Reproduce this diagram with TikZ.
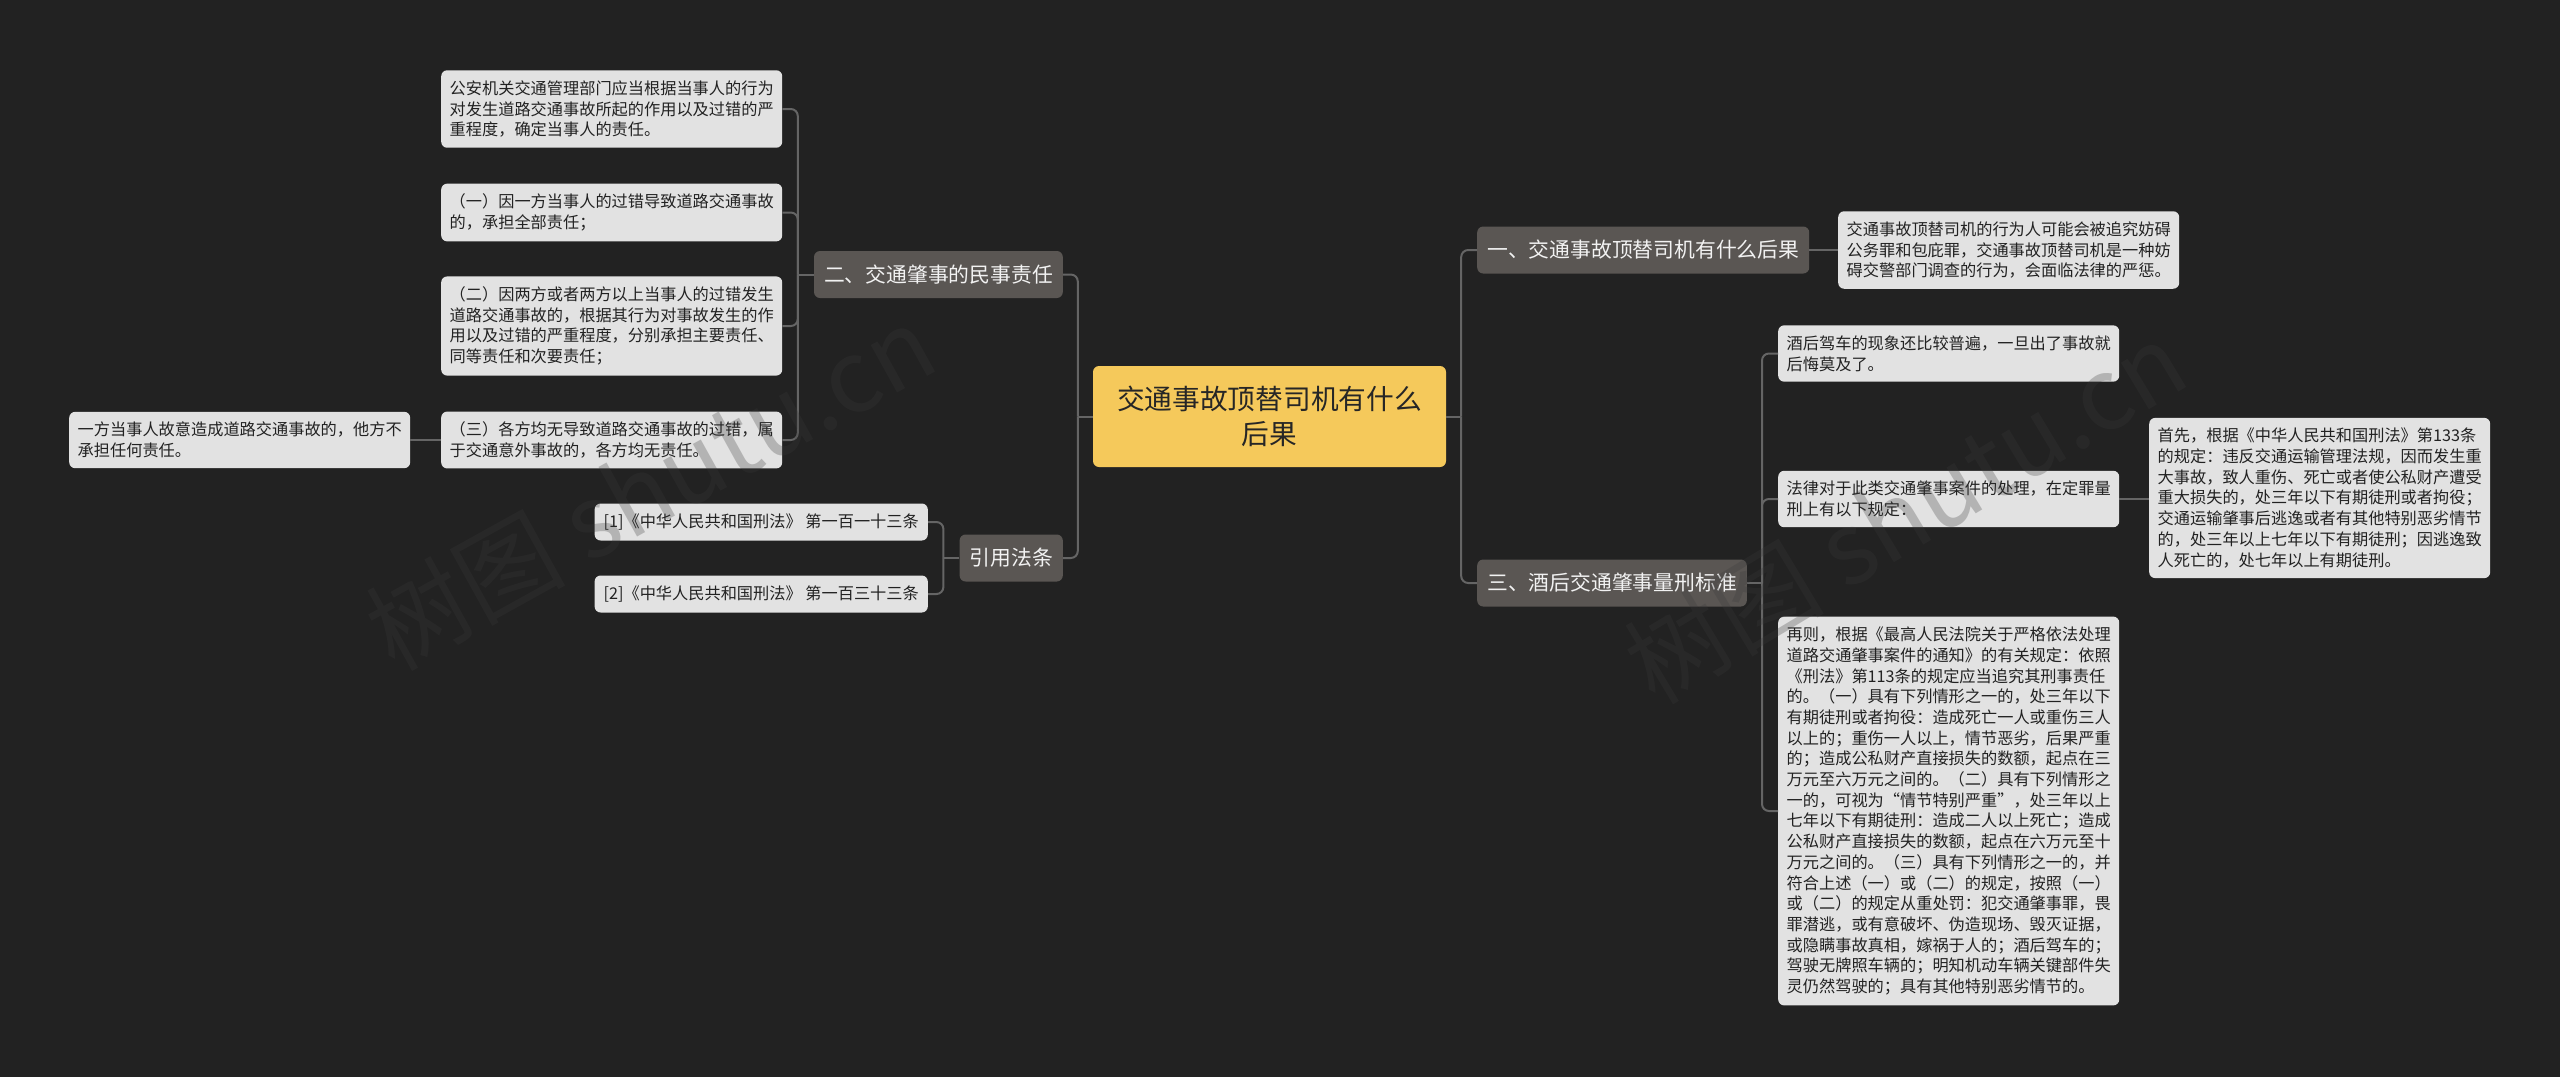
\documentclass[tikz,border=0pt]{standalone}
\usepackage{fontspec}
\setmainfont{Noto Sans CJK SC}
\usetikzlibrary{calc}
\definecolor{bgc}{HTML}{222222}
\definecolor{leafc}{HTML}{E2E2E2}
\definecolor{leaftext}{HTML}{222222}
\definecolor{lonec}{HTML}{5A5653}
\definecolor{centc}{HTML}{F5C95B}
\definecolor{connc}{HTML}{656565}
\definecolor{wmc}{HTML}{3A3A3A}
\tikzset{
  conn/.style={draw=connc, line width=2pt, rounded corners=7pt},
  leaf/.style={fill=leafc, rounded corners=6pt, text=leaftext,
    font=\fontsize{16.2pt}{20.7pt}\selectfont, text width=324pt, align=left,
    inner xsep=8.5pt, inner ysep=10.3pt},
  refleaf/.style={fill=leafc, rounded corners=6pt, text=leaftext,
    font=\fontsize{16.2pt}{20.7pt}\selectfont, inner xsep=9pt, minimum height=37pt, inner ysep=0pt},
  lone/.style={fill=lonec, rounded corners=6pt, text=white!95!black,
    font=\fontsize{20.8pt}{25pt}\selectfont, inner xsep=10pt, inner ysep=0pt, minimum height=47pt},
  centre/.style={fill=centc, rounded corners=6pt, text=black!85,
    font=\fontsize{27.7pt}{35pt}\selectfont, align=center, minimum width=353pt, minimum height=101pt, inner sep=0pt},
  wm/.style={text=wmc, opacity=0.28, font=\fontsize{100pt}{110pt}\selectfont}
}
\begin{document}
\begin{tikzpicture}[x=1pt,y=-1pt]
\fill[bgc] (0,0) rectangle (2560,1077);
\useasboundingbox (0,0) rectangle (2560,1077);

% central
\node[centre] (c) at (1269.5,416.5) {交通事故顶替司机有什么\\后果};

% level one
\node[lone, anchor=east] (b2) at (1063,274.5) {二、交通肇事的民事责任};
\node[lone, anchor=east] (b4) at (1063,558) {引用法条};
\node[lone, anchor=west] (b1) at (1477,250) {一、交通事故顶替司机有什么后果};
\node[lone, anchor=west] (b3) at (1477,583) {三、酒后交通肇事量刑标准};

% left leaves
\node[leaf, anchor=west] (L1) at (441,109) {公安机关交通管理部门应当根据当事人的行为\\对发生道路交通事故所起的作用以及过错的严\\重程度，确定当事人的责任。};
\node[leaf, anchor=west] (L2) at (441,212.5) {（一）因一方当事人的过错导致道路交通事故\\的，承担全部责任；};
\node[leaf, anchor=west] (L3) at (441,326) {（二）因两方或者两方以上当事人的过错发生\\道路交通事故的，根据其行为对事故发生的作\\用以及过错的严重程度，分别承担主要责任、\\同等责任和次要责任；};
\node[leaf, anchor=west] (L4) at (441,440) {（三）各方均无导致道路交通事故的过错，属\\于交通意外事故的，各方均无责任。};
\node[leaf, anchor=west] (LL) at (69,440) {一方当事人故意造成道路交通事故的，他方不\\承担任何责任。};
\node[refleaf, anchor=east] (F1) at (928,522) {[1]《中华人民共和国刑法》 第一百一十三条};
\node[refleaf, anchor=east] (F2) at (928,594) {[2]《中华人民共和国刑法》 第一百三十三条};

% right leaves
\node[leaf, anchor=west] (A1) at (1838,250) {交通事故顶替司机的行为人可能会被追究妨碍\\公务罪和包庇罪，交通事故顶替司机是一种妨\\碍交警部门调查的行为，会面临法律的严惩。};
\node[leaf, anchor=west] (R1) at (1778,353.5) {酒后驾车的现象还比较普遍，一旦出了事故就\\后悔莫及了。};
\node[leaf, anchor=west] (R2) at (1778,499) {法律对于此类交通肇事案件的处理，在定罪量\\刑上有以下规定：};
\node[leaf, anchor=west] (R2a) at (2149,498) {首先，根据《中华人民共和国刑法》第133条\\的规定：违反交通运输管理法规，因而发生重\\大事故，致人重伤、死亡或者使公私财产遭受\\重大损失的，处三年以下有期徒刑或者拘役；\\交通运输肇事后逃逸或者有其他特别恶劣情节\\的，处三年以上七年以下有期徒刑；因逃逸致\\人死亡的，处七年以上有期徒刑。};
\node[leaf, anchor=west] (R3) at (1778,811) {再则，根据《最高人民法院关于严格依法处理\\道路交通肇事案件的通知》的有关规定：依照\\《刑法》第113条的规定应当追究其刑事责任\\的。（一）具有下列情形之一的，处三年以下\\有期徒刑或者拘役：造成死亡一人或重伤三人\\以上的；重伤一人以上，情节恶劣，后果严重\\的；造成公私财产直接损失的数额，起点在三\\万元至六万元之间的。（二）具有下列情形之\\一的，可视为“情节特别严重”，处三年以上\\七年以下有期徒刑：造成二人以上死亡；造成\\公私财产直接损失的数额，起点在六万元至十\\万元之间的。（三）具有下列情形之一的，并\\符合上述（一）或（二）的规定，按照（一）\\或（二）的规定从重处罚：犯交通肇事罪，畏\\罪潜逃，或有意破坏、伪造现场、毁灭证据，\\或隐瞒事故真相，嫁祸于人的；酒后驾车的；\\驾驶无牌照车辆的；明知机动车辆关键部件失\\灵仍然驾驶的；具有其他特别恶劣情节的。};

% trunk coordinates
\coordinate (tcl) at ($(c.west)+(-15,0)$);
\coordinate (tcr) at ($(c.east)+(15,0)$);
\coordinate (t2) at ($(b2.west)+(-16,0)$);
\coordinate (t4) at ($(b4.west)+(-16,0)$);
\coordinate (t3) at ($(b3.east)+(15,0)$);

% connectors
\draw[conn] (c.west) -- (tcl);
\draw[conn] (tcl) |- (b2.east);
\draw[conn] (tcl) |- (b4.east);
\draw[conn] (c.east) -- (tcr);
\draw[conn] (tcr) |- (b1.west);
\draw[conn] (tcr) |- (b3.west);

\draw[conn] (b2.west) -- (t2);
\draw[conn] (t2) |- (L1.east);
\draw[conn] (t2) |- (L2.east);
\draw[conn] (t2) |- (L3.east);
\draw[conn] (t2) |- (L4.east);
\draw[conn] (L4.west) -- (L4.west -| LL.east);

\draw[conn] (b4.west) -- (t4);
\draw[conn] (t4) |- (F1.east);
\draw[conn] (t4) |- (F2.east);

\draw[conn] (b1.east) -- (b1.east -| A1.west);

\draw[conn] (b3.east) -- (t3);
\draw[conn] (t3) |- (R1.west);
\draw[conn] (t3) |- (R2.west);
\draw[conn] (t3) |- (R3.west);
\draw[conn] (R2.east) -- (R2.east -| R2a.west);

% watermarks
\node[wm, rotate=29] (w1) at (650,487) {树图 shutu.cn};
\node[wm, rotate=31] (w2) at (1905,512) {树图 shutu.cn};
\end{tikzpicture}
\end{document}
